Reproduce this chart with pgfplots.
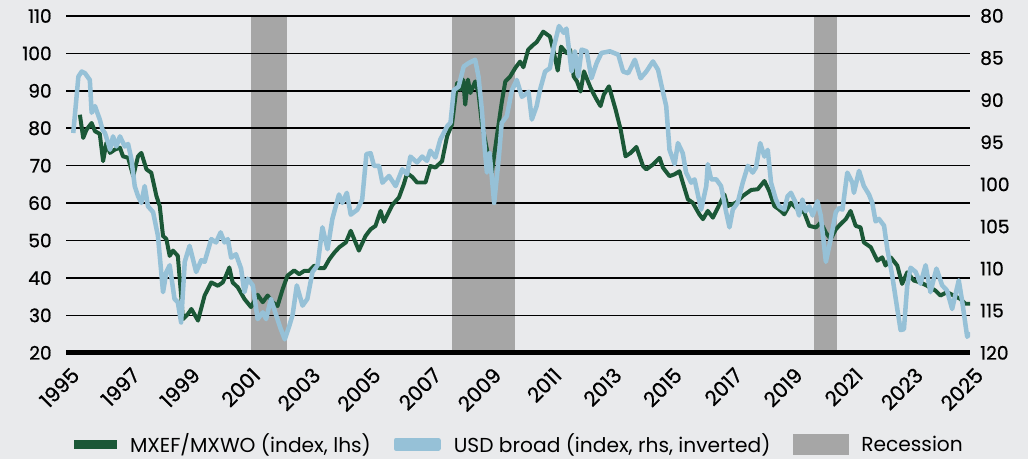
\documentclass[border=0pt]{standalone}
\usepackage{fontspec}
\setmainfont{Poppins}
\newfontfamily\tickfont{Poppins}[FakeBold=0.7]
\usepackage{pgfplots}
\pgfplotsset{compat=1.18}
\definecolor{bgc}{RGB}{233,234,236}
\definecolor{mxgreen}{RGB}{27,88,55}
\definecolor{usdblue}{RGB}{150,193,215}
\definecolor{recgray}{RGB}{166,166,166}

\pgfplotsset{
  chartbase/.style={
    at={(0,0)}, anchor=south west,
    scale only axis, width=680.25pt, height=253.5pt,
    xmin=1995, xmax=2025,
    major tick length=0pt,
    tick label style={font=\tickfont\fontsize{14}{16}\selectfont},
    /pgf/number format/assume math mode=true,
    /pgf/number format/1000 sep={},
  },
}

\begin{document}
\pagecolor{bgc}
\begin{tikzpicture}

% left axis: MXEF/MXWO
\begin{axis}[
  chartbase,
  set layers,
  ymin=20, ymax=110,
  ytick={20,30,...,110},
  yticklabel={\pgfmathprintnumber{\tick}\hspace*{7.5pt}},
  xtick={1995,1997,...,2025},
  axis x line*=bottom, axis y line*=left,
  x axis line style={line width=3.5pt, -},
  y axis line style={draw=none},
  ymajorgrids, grid style={black, line width=1.2pt},
  xticklabel style={font=\tickfont\fontsize{15.5}{17}\selectfont,
    inner sep=0pt, anchor=east, xshift=7pt, yshift=-14pt, rotate=45},
]
\addplot[on layer=axis background, fill=recgray, draw=none, forget plot]
  coordinates {(2001.12,20) (2002.31,20) (2002.31,110) (2001.12,110)};
\addplot[on layer=axis background, fill=recgray, draw=none, forget plot]
  coordinates {(2007.80,20) (2009.88,20) (2009.88,110) (2007.80,110)};
\addplot[on layer=axis background, fill=recgray, draw=none, forget plot]
  coordinates {(2019.81,20) (2020.59,20) (2020.59,110) (2019.81,110)};

\addplot[mxgreen, line width=3pt, line join=round] coordinates {
(1995.45,83.6) (1995.56,77.4) (1995.67,79.6) (1995.84,81.4) (1995.95,79.2)
(1996.11,78.5) (1996.22,71.2) (1996.33,76.1) (1996.45,73.4) (1996.61,74.3)
(1996.78,74.8) (1996.88,72.5) (1997.05,72.1) (1997.22,67.2) (1997.38,72.5)
(1997.49,73.4) (1997.66,69.0) (1997.82,68.1) (1997.99,61.9) (1998.10,59.2)
(1998.21,51.2) (1998.32,50.4) (1998.43,45.9) (1998.54,47.3) (1998.70,45.9)
(1998.81,35.3) (1998.87,29.0) (1999.04,30.4) (1999.15,31.7) (1999.37,28.6)
(1999.59,35.3) (1999.81,38.8) (2000.03,37.9) (2000.19,38.8) (2000.30,40.6)
(2000.41,42.8) (2000.52,38.8) (2000.69,37.5) (2000.91,34.4) (2001.13,32.2)
(2001.35,35.5) (2001.52,33.5) (2001.68,35.3) (2001.85,33.5) (2002.01,32.5)
(2002.18,37.0) (2002.34,40.6) (2002.56,42.0) (2002.73,41.0) (2002.90,41.9)
(2003.06,41.9) (2003.23,43.3) (2003.40,42.6) (2003.56,42.6) (2003.73,45.0)
(2003.90,46.8) (2004.06,48.2) (2004.28,49.5) (2004.44,52.6) (2004.71,47.3)
(2004.93,51.2) (2005.10,53.0) (2005.26,53.9) (2005.43,57.9) (2005.54,55.0)
(2005.82,59.5) (2006.04,61.5) (2006.20,65.0) (2006.31,68.0) (2006.48,67.0)
(2006.64,65.5) (2006.92,65.5) (2007.08,69.9) (2007.25,69.5) (2007.47,71.2)
(2007.64,77.9) (2007.80,81.0) (2007.97,92.1) (2008.08,90.3) (2008.17,93.0)
(2008.24,86.3) (2008.33,93.0) (2008.41,89.4) (2008.57,92.5) (2008.68,89.4)
(2008.79,81.4) (2008.96,74.3) (2009.12,68.1) (2009.29,77.9) (2009.45,86.8)
(2009.57,92.5) (2009.73,93.8) (2009.90,96.1) (2010.06,97.8) (2010.17,96.3)
(2010.33,101.0) (2010.50,102.3) (2010.61,103.0) (2010.83,105.8) (2011.05,104.5)
(2011.16,101.0) (2011.31,95.4) (2011.42,101.8) (2011.60,100.1) (2011.72,101.0)
(2011.84,93.8) (2011.95,92.5) (2012.07,89.8) (2012.18,95.2) (2012.40,90.8)
(2012.57,88.1) (2012.73,85.9) (2012.84,89.0) (2013.01,91.2) (2013.23,85.0)
(2013.40,79.6) (2013.56,72.5) (2013.73,73.4) (2013.92,75.0) (2014.14,69.9)
(2014.25,69.0) (2014.47,70.3) (2014.69,72.1) (2014.80,69.5) (2015.02,67.2)
(2015.19,67.7) (2015.35,68.5) (2015.46,65.5) (2015.63,61.0) (2015.79,60.1)
(2016.01,57.0) (2016.13,55.7) (2016.29,57.9) (2016.46,56.1) (2016.68,59.7)
(2016.84,62.3) (2016.95,59.2) (2017.23,60.1) (2017.45,61.9) (2017.73,63.5)
(2017.95,63.7) (2018.17,65.9) (2018.33,63.2) (2018.50,59.2) (2018.66,58.3)
(2018.83,57.0) (2019.05,60.1) (2019.27,58.3) (2019.49,57.5) (2019.66,53.9)
(2019.88,53.5) (2020.04,54.8) (2020.21,52.1) (2020.37,50.4) (2020.54,53.0)
(2020.70,54.4) (2020.87,55.7) (2021.03,57.9) (2021.20,53.9) (2021.36,53.5)
(2021.47,49.5) (2021.70,48.2) (2021.92,44.6) (2022.08,45.5) (2022.19,43.3)
(2022.36,45.5) (2022.58,43.3) (2022.74,38.4) (2022.91,41.5) (2023.13,39.3)
(2023.35,38.8) (2023.57,37.9) (2023.85,36.6) (2024.01,35.3) (2024.23,36.2)
(2024.45,35.3) (2024.67,34.4) (2024.84,33.1) (2025.00,33.1)
};
\end{axis}

% right axis: USD broad, inverted
\begin{axis}[
  chartbase,
  ymin=80, ymax=120, y dir=reverse,
  ytick={80,85,...,120},
  yticklabel={\hspace*{4pt}\pgfmathprintnumber{\tick}},
  axis x line=none, axis y line*=right,
  y axis line style={draw=none},
  legend columns=3,
  legend style={at={(0.5,-0.272)}, anchor=center, draw=none, fill=none,
    font=\fontsize{15.2}{17}\selectfont,
    nodes={inner sep=0pt},
    /tikz/every odd column/.append style={column sep=10pt},
    /tikz/every even column/.append style={column sep=17pt}},
]
\addlegendimage{legend image code/.code={\fill[mxgreen] (0pt,-3pt) rectangle (32pt,3pt);}}
\addlegendentry{MXEF/MXWO (index, lhs)}
\addplot[usdblue, line width=3.4pt, line join=round,
  legend image code/.code={\fill[usdblue] (0pt,-3pt) rectangle (32pt,3pt);}] coordinates {
(1995.23,93.9) (1995.40,87.2) (1995.51,86.6) (1995.62,86.8) (1995.78,87.6)
(1995.84,91.5) (1995.95,90.7) (1996.11,92.3) (1996.20,93.5) (1996.28,93.9)
(1996.39,95.1) (1996.45,95.9) (1996.55,94.3) (1996.66,95.5) (1996.78,94.3)
(1996.94,95.5) (1997.05,95.2) (1997.16,97.0) (1997.27,100.2) (1997.38,101.4)
(1997.49,102.2) (1997.60,100.2) (1997.71,102.6) (1997.88,103.3) (1998.04,106.1)
(1998.21,112.8) (1998.32,110.4) (1998.43,109.6) (1998.59,113.6) (1998.70,114.0)
(1998.81,116.4) (1998.93,109.2) (1999.09,107.3) (1999.31,110.4) (1999.48,109.0)
(1999.59,109.2) (1999.81,106.5) (1999.97,106.9) (2000.12,105.7) (2000.25,106.9)
(2000.36,106.5) (2000.47,108.7) (2000.63,108.3) (2000.80,110.0) (2000.91,112.8)
(2001.02,111.2) (2001.19,112.0) (2001.35,116.0) (2001.52,115.2) (2001.63,116.0)
(2001.79,113.6) (2001.96,115.5) (2002.12,117.2) (2002.25,118.4) (2002.40,116.8)
(2002.51,115.5) (2002.65,112.0) (2002.84,114.4) (2003.00,113.6) (2003.17,110.4)
(2003.34,109.6) (2003.50,105.1) (2003.67,107.7) (2003.83,104.1) (2004.05,101.2)
(2004.16,102.2) (2004.31,101.0) (2004.44,103.6) (2004.66,103.0) (2004.82,101.8)
(2004.96,96.4) (2005.10,96.3) (2005.21,97.8) (2005.38,97.8) (2005.49,99.8)
(2005.71,99.0) (2005.93,100.2) (2006.15,98.2) (2006.31,98.8) (2006.42,96.7)
(2006.64,97.4) (2006.81,96.7) (2006.97,97.2) (2007.08,96.0) (2007.25,96.8)
(2007.41,94.7) (2007.64,93.1) (2007.75,92.7) (2007.86,88.8) (2008.02,88.4)
(2008.19,86.0) (2008.35,85.6) (2008.57,85.2) (2008.68,87.2) (2008.79,91.1)
(2008.90,96.3) (2008.96,98.6) (2009.05,96.3) (2009.20,102.2) (2009.35,97.0)
(2009.45,92.7) (2009.62,91.9) (2009.79,88.8) (2009.95,87.6) (2010.12,89.6)
(2010.28,89.2) (2010.34,89.0) (2010.45,92.3) (2010.61,90.7) (2010.72,88.8)
(2010.89,86.6) (2011.05,86.2) (2011.16,84.0) (2011.35,81.2) (2011.51,82.0)
(2011.60,81.5) (2011.77,86.6) (2011.88,84.2) (2011.99,87.2) (2012.10,84.0)
(2012.27,84.2) (2012.43,87.4) (2012.60,85.6) (2012.76,84.4) (2013.04,84.2)
(2013.32,84.6) (2013.48,86.6) (2013.65,86.8) (2013.87,85.2) (2014.06,87.4)
(2014.25,86.6) (2014.47,85.4) (2014.64,86.4) (2014.80,89.0) (2014.91,90.7)
(2015.02,95.9) (2015.19,97.6) (2015.30,95.1) (2015.46,96.3) (2015.57,98.6)
(2015.74,99.8) (2015.85,99.4) (2016.07,103.0) (2016.24,100.2) (2016.29,97.6)
(2016.40,99.4) (2016.57,99.4) (2016.73,100.2) (2016.90,103.3) (2017.01,105.1)
(2017.12,103.0) (2017.28,102.2) (2017.45,99.8) (2017.62,97.8) (2017.78,98.6)
(2017.89,98.0) (2018.03,95.1) (2018.17,96.7) (2018.28,95.9) (2018.39,99.8)
(2018.55,101.8) (2018.66,102.6) (2018.83,103.0) (2018.94,101.4) (2019.05,101.0)
(2019.21,102.2) (2019.32,103.7) (2019.43,101.8) (2019.54,103.2) (2019.66,102.6)
(2019.77,103.7) (2019.93,102.0) (2020.04,103.7) (2020.21,109.2) (2020.37,106.5)
(2020.54,103.3) (2020.65,102.8) (2020.76,103.0) (2020.92,98.6) (2021.09,99.8)
(2021.14,101.0) (2021.31,98.4) (2021.47,100.2) (2021.64,101.2) (2021.75,102.2)
(2021.86,104.4) (2021.97,104.1) (2022.14,104.9) (2022.25,107.7) (2022.41,110.8)
(2022.58,114.8) (2022.69,117.3) (2022.80,117.2) (2022.91,112.0) (2023.02,109.9)
(2023.19,110.4) (2023.35,111.8) (2023.52,109.6) (2023.68,112.8) (2023.88,110.0)
(2024.07,112.0) (2024.23,112.6) (2024.40,114.8) (2024.62,111.4) (2024.73,113.8)
(2024.90,118.1) (2025.00,117.6)
};
\addlegendentry{USD broad (index, rhs, inverted)}
\addlegendimage{legend image code/.code={\fill[recgray] (0pt,-7.5pt) rectangle (41pt,7.5pt);}}
\addlegendentry{Recession}
\end{axis}
\pgfresetboundingbox
\path (-47.25pt,-80.25pt) rectangle (723.75pt,265.5pt);
\end{tikzpicture}
\end{document}
